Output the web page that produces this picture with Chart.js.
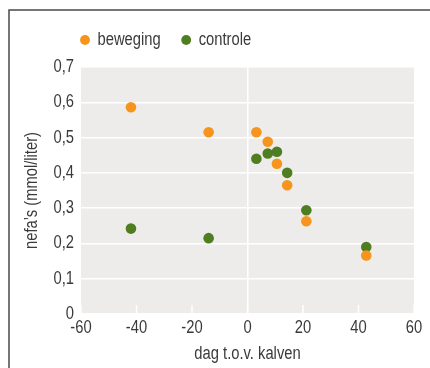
<!DOCTYPE html>
<html>
<head>
<meta charset="utf-8">
<script src="https://cdn.jsdelivr.net/npm/chart.js@4/dist/chart.umd.min.js"></script>
<style>
html,body{margin:0;padding:0;background:#fff;}
canvas{display:block;}
</style>
</head>
<body>
<canvas id="c" width="430" height="368"></canvas>
<script>
// Data
const days = [-42, -14, 3.2, 7.3, 10.6, 14.3, 21.2, 42.8];
const beweging = [0.586, 0.515, 0.515, 0.488, 0.426, 0.365, 0.263, 0.166];
const controle = [0.242, 0.215, 0.44, 0.455, 0.46, 0.40, 0.294, 0.19];
const seriesNames = ['beweging', 'controle'];
const xTicks = [-60, -40, -20, 0, 20, 40, 60];
const yTicks = [0, 0.1, 0.2, 0.3, 0.4, 0.5, 0.6, 0.7];
const xTitle = 'dag t.o.v. kalven';
const yTitle = 'nefa\u2019s (mmol/liter)';

const FONT = "'Liberation Sans Narrow', 'Arial Narrow', 'Liberation Sans', Arial, sans-serif";
const TXT = '#3a3a3a';
const ORANGE = '#F7941D';
const GREEN = '#4E7D22';

// condensed text rendering (no narrow font installed): compress glyphs horizontally
const canvas = document.getElementById('c');
const ctx2d = canvas.getContext('2d');
const K = 0.82;
const origFill = ctx2d.fillText.bind(ctx2d);
const origMeasure = ctx2d.measureText.bind(ctx2d);
ctx2d.fillText = function (text, x, y, maxWidth) {
  this.save();
  this.translate(x, y);
  this.scale(K, 1);
  if (maxWidth === undefined) origFill(text, 0, 0);
  else origFill(text, 0, 0, maxWidth / K);
  this.restore();
};
ctx2d.measureText = function (text) {
  const m = origMeasure(text);
  return {
    width: m.width * K,
    actualBoundingBoxAscent: m.actualBoundingBoxAscent,
    actualBoundingBoxDescent: m.actualBoundingBoxDescent,
    actualBoundingBoxLeft: m.actualBoundingBoxLeft * K,
    actualBoundingBoxRight: m.actualBoundingBoxRight * K
  };
};

const toPts = (xs, ys) => xs.map((x, i) => ({x: x, y: ys[i]}));

const decor = {
  id: 'decor',
  afterLayout(chart) {
    const lg = chart.legend;
    if (lg) { lg.left = 59.5; lg.top = 9; }
  },
  beforeDraw(chart) {
    const {ctx, chartArea: a} = chart;
    ctx.save();
    ctx.fillStyle = '#EDECEA';
    ctx.fillRect(a.left, a.top, a.right - a.left, a.bottom - a.top);
    // frame
    ctx.strokeStyle = '#4a4a4a';
    ctx.lineWidth = 1.5;
    ctx.beginPath();
    ctx.moveTo(9, 368);
    ctx.lineTo(9, 10);
    ctx.lineTo(430, 10);
    ctx.stroke();
    ctx.restore();
  },
  beforeDatasetsDraw(chart) {
    const {ctx, chartArea: a, scales} = chart;
    ctx.save();
    ctx.strokeStyle = '#ffffff';
    ctx.lineWidth = 1.5;
    scales.x.ticks.forEach(t => {
      const px = scales.x.getPixelForValue(t.value);
      ctx.beginPath();
      ctx.moveTo(px, a.bottom - 9);
      ctx.lineTo(px, a.bottom);
      ctx.stroke();
    });
    ctx.restore();
  }
};

new Chart(canvas, {
  type: 'scatter',
  data: {
    datasets: [
      {label: seriesNames[0], data: toPts(days, beweging), backgroundColor: ORANGE, borderWidth: 0, pointRadius: 5.3, pointHoverRadius: 5.3},
      {label: seriesNames[1], data: toPts(days, controle), backgroundColor: GREEN, borderWidth: 0, pointRadius: 5.3, pointHoverRadius: 5.3}
    ]
  },
  options: {
    responsive: false,
    animation: false,
    devicePixelRatio: 1,
    layout: {padding: {left: 0, right: 16, top: 17, bottom: 0}},
    plugins: {
      tooltip: {enabled: false},
      legend: {
        position: 'top',
        align: 'start',
        labels: {
          usePointStyle: true,
          pointStyle: 'circle',
          boxWidth: 7,
          boxHeight: 7,
          padding: 22,
          color: TXT,
          font: {family: FONT, size: 18}
        }
      }
    },
    scales: {
      x: {
        type: 'linear',
        min: -60, max: 60,
        afterBuildTicks(s) { s.ticks = xTicks.map(v => ({value: v})); },
        ticks: {color: TXT, font: {family: FONT, size: 18}, padding: 3, maxRotation: 0,
          callback: v => String(v)},
        grid: {drawTicks: false, lineWidth: 1.5,
          color: c => (c.tick && c.tick.value === 0) ? '#ffffff' : 'rgba(0,0,0,0)'},
        border: {display: false},
        title: {display: true, text: xTitle, color: TXT, font: {family: FONT, size: 18}, padding: {top: 0, bottom: 3}},
        afterFit(s) { s.height = 54; }
      },
      y: {
        type: 'linear',
        min: 0, max: 0.7,
        afterBuildTicks(s) { s.ticks = yTicks.map(v => ({value: v})); },
        ticks: {color: TXT, font: {family: FONT, size: 18}, padding: 7,
          callback: v => v === 0 ? '0' : v.toFixed(1).replace('.', ',')},
        grid: {drawTicks: false, lineWidth: 1.5, color: '#ffffff'},
        border: {display: false},
        title: {display: true, text: yTitle, color: TXT, font: {family: FONT, size: 18}, padding: {top: 21, bottom: 0}},
        afterFit(s) { s.width = 81; }
      }
    }
  },
  plugins: [decor]
});
</script>
</body>
</html>
